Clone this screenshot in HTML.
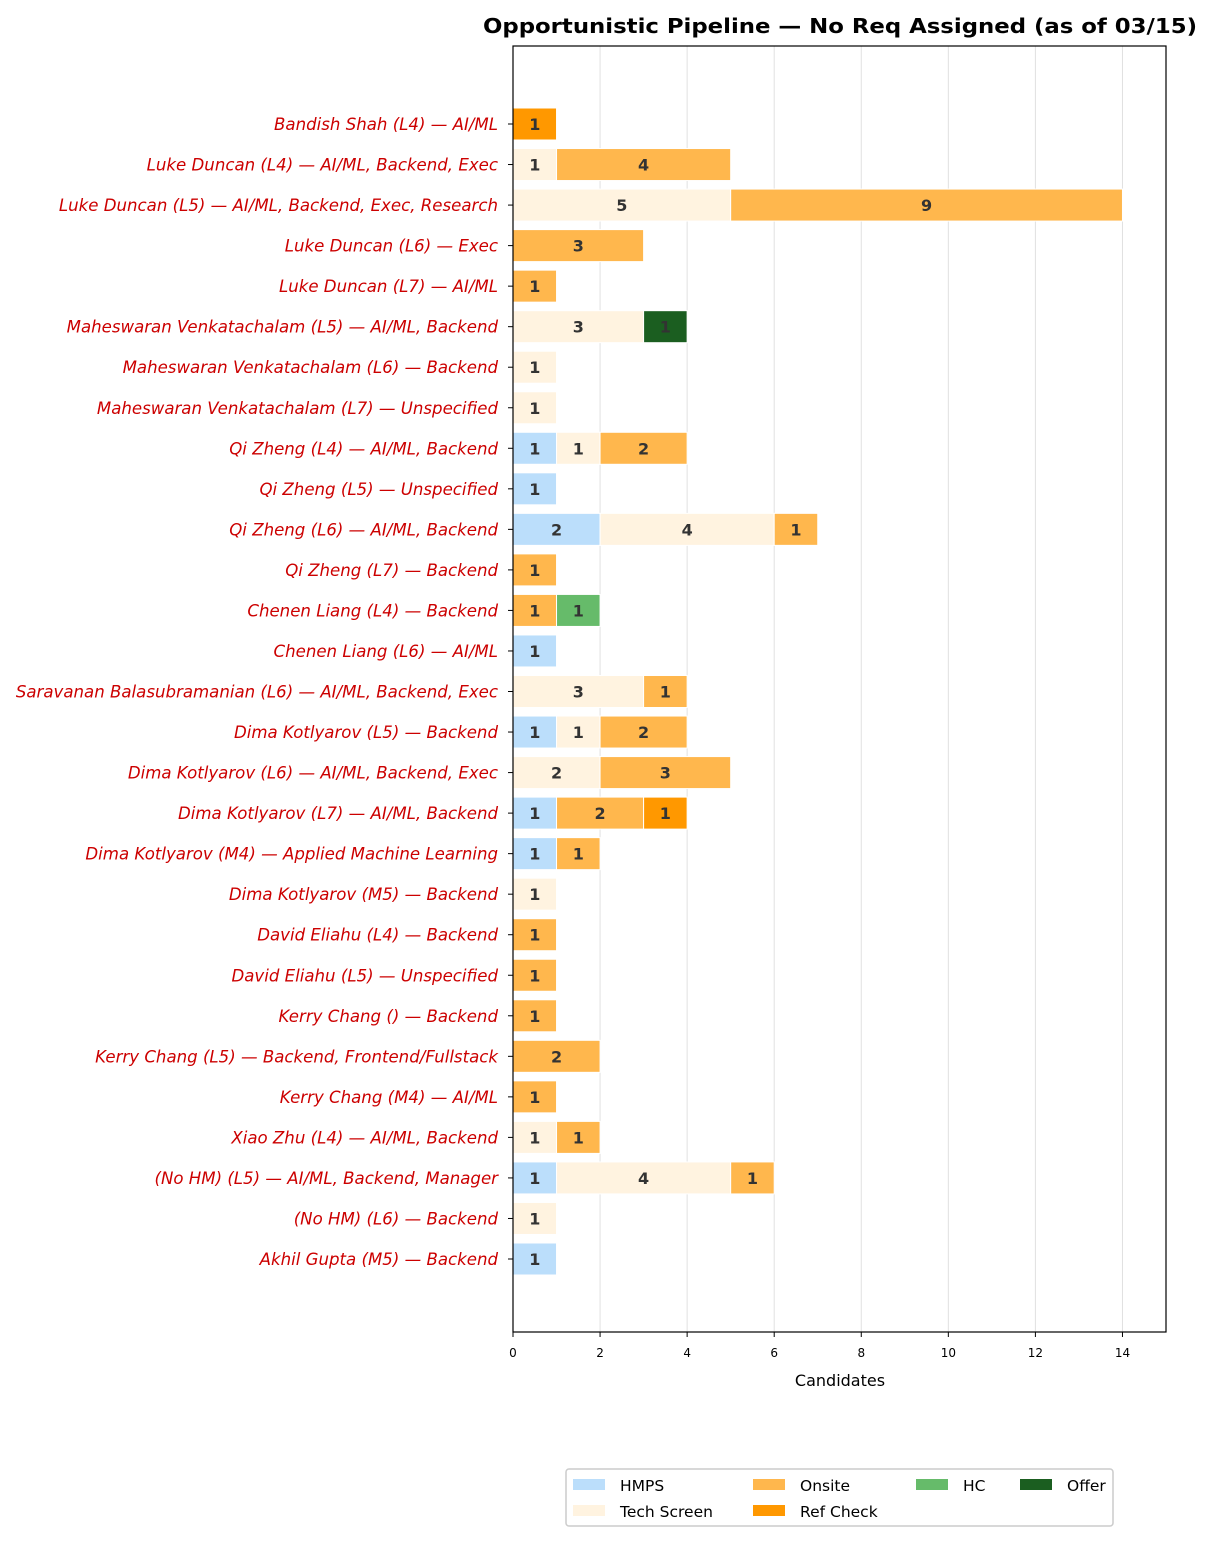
<!DOCTYPE html>
<html><head><meta charset="utf-8"><style>
body{margin:0;background:#fff;font-family:"DejaVu Sans","Liberation Sans",sans-serif;}
</style></head><body>
<svg id="chart" width="1213" height="1542" xmlns="http://www.w3.org/2000/svg" font-family="DejaVu Sans, Liberation Sans, sans-serif">
<text x="840" y="33" text-anchor="middle" font-size="20" font-weight="bold" fill="#000" textLength="714" lengthAdjust="spacingAndGlyphs">Opportunistic Pipeline — No Req Assigned (as of 03/15)</text>
<g id="grid"></g><g id="bars"></g><g id="ylabels"></g><g id="xticks"></g>
<rect x="513" y="46" width="653" height="1286" fill="none" stroke="#000" stroke-width="1.2"/>
<text x="840" y="1386" text-anchor="middle" font-size="16" fill="#000">Candidates</text>
<g id="legend"></g>
</svg>
<script>
const categories=["Bandish Shah (L4) — AI/ML","Luke Duncan (L4) — AI/ML, Backend, Exec","Luke Duncan (L5) — AI/ML, Backend, Exec, Research","Luke Duncan (L6) — Exec","Luke Duncan (L7) — AI/ML","Maheswaran Venkatachalam (L5) — AI/ML, Backend","Maheswaran Venkatachalam (L6) — Backend","Maheswaran Venkatachalam (L7) — Unspecified","Qi Zheng (L4) — AI/ML, Backend","Qi Zheng (L5) — Unspecified","Qi Zheng (L6) — AI/ML, Backend","Qi Zheng (L7) — Backend","Chenen Liang (L4) — Backend","Chenen Liang (L6) — AI/ML","Saravanan Balasubramanian (L6) — AI/ML, Backend, Exec","Dima Kotlyarov (L5) — Backend","Dima Kotlyarov (L6) — AI/ML, Backend, Exec","Dima Kotlyarov (L7) — AI/ML, Backend","Dima Kotlyarov (M4) — Applied Machine Learning","Dima Kotlyarov (M5) — Backend","David Eliahu (L4) — Backend","David Eliahu (L5) — Unspecified","Kerry Chang () — Backend","Kerry Chang (L5) — Backend, Frontend/Fullstack","Kerry Chang (M4) — AI/ML","Xiao Zhu (L4) — AI/ML, Backend","(No HM) (L5) — AI/ML, Backend, Manager","(No HM) (L6) — Backend","Akhil Gupta (M5) — Backend"];
const hmps=[0,0,0,0,0,0,0,0,1,1,2,0,0,1,0,1,0,1,1,0,0,0,0,0,0,0,1,0,1];
const techScreen=[0,1,5,0,0,3,1,1,1,0,4,0,0,0,3,1,2,0,0,1,0,0,0,0,0,1,4,1,0];
const onsite=[0,4,9,3,1,0,0,0,2,0,1,1,1,0,1,2,3,2,1,0,1,1,1,2,1,1,1,0,0];
const refCheck=[1,0,0,0,0,0,0,0,0,0,0,0,0,0,0,0,0,1,0,0,0,0,0,0,0,0,0,0,0];
const hc=[0,0,0,0,0,0,0,0,0,0,0,0,1,0,0,0,0,0,0,0,0,0,0,0,0,0,0,0,0];
const offer=[0,0,0,0,0,1,0,0,0,0,0,0,0,0,0,0,0,0,0,0,0,0,0,0,0,0,0,0,0];
const xTicks=[0,2,4,6,8,10,12,14];
const seriesNames=["HMPS","Tech Screen","Onsite","Ref Check","HC","Offer"];
const seriesColors=["#bbdefb","#fff3e0","#ffb74d","#ff9800","#66bb6a","#1b5e20"];
const series=[hmps,techScreen,onsite,refCheck,hc,offer];
const NS="http://www.w3.org/2000/svg";
const x=v=>513+v*(653/15);
const y=i=>124+i*(1135/28);
const bh=32;
function mk(tag,attrs,parent){const e=document.createElementNS(NS,tag);for(const k in attrs)e.setAttribute(k,attrs[k]);parent.appendChild(e);return e;}
const grid=document.getElementById('grid'),bars=document.getElementById('bars'),yl=document.getElementById('ylabels'),xt=document.getElementById('xticks'),lg=document.getElementById('legend');
xTicks.forEach(t=>{
 const l=mk('line',{x1:x(t),x2:x(t),y1:46,y2:1332,stroke:'#e0e0e0','stroke-width':1},grid);
 
 
 mk('line',{x1:x(t),x2:x(t),y1:1332,y2:1337,stroke:'#000'},xt);
 const tx=mk('text',{x:x(t),y:1357,'text-anchor':'middle','font-size':12,fill:'#000'},xt);
 tx.textContent=t;
 
 
});
categories.forEach((c,i)=>{
 const t=mk('text',{x:498,y:y(i)+6,'text-anchor':'end','font-size':16.6,'font-style':'italic',fill:'#cc0000'},yl);
 t.textContent=c;
 
 
 mk('line',{x1:508,x2:513,y1:y(i),y2:y(i),stroke:'#000'},yl);
 let acc=0;
 series.forEach((s,k)=>{
  const v=s[i]; if(!v)return;
  const r=mk('rect',{x:x(acc),y:y(i)-bh/2,width:x(acc+v)-x(acc),height:bh,fill:seriesColors[k],stroke:'#fff','stroke-width':1},bars);
  
  
  const lt=mk('text',{x:(x(acc)+x(acc+v))/2,y:y(i)+6,'text-anchor':'middle','font-size':16,'font-weight':'bold',fill:'#333'},bars);
  lt.textContent=v;
  
  
  acc+=v;
 });
});
mk('rect',{x:566,y:1469,width:547,height:57,fill:'#fff',stroke:'#ccc','stroke-width':1.5,rx:3},lg);
seriesNames.forEach((n,k)=>{
 const col=k<4?Math.floor(k/2):k-2,row=k<4?k%2:0;
 const cx=[573,753,916,1020][col],cy=1479+row*26;
 const sw=mk('rect',{x:cx,y:cy,width:32,height:11,fill:seriesColors[k]},lg);
 
 
 const t=mk('text',{x:cx+47,y:cy+12,'font-size':15.5,fill:'#000'},lg);
 t.textContent=n;
 
 
});
</script>
</body></html>
